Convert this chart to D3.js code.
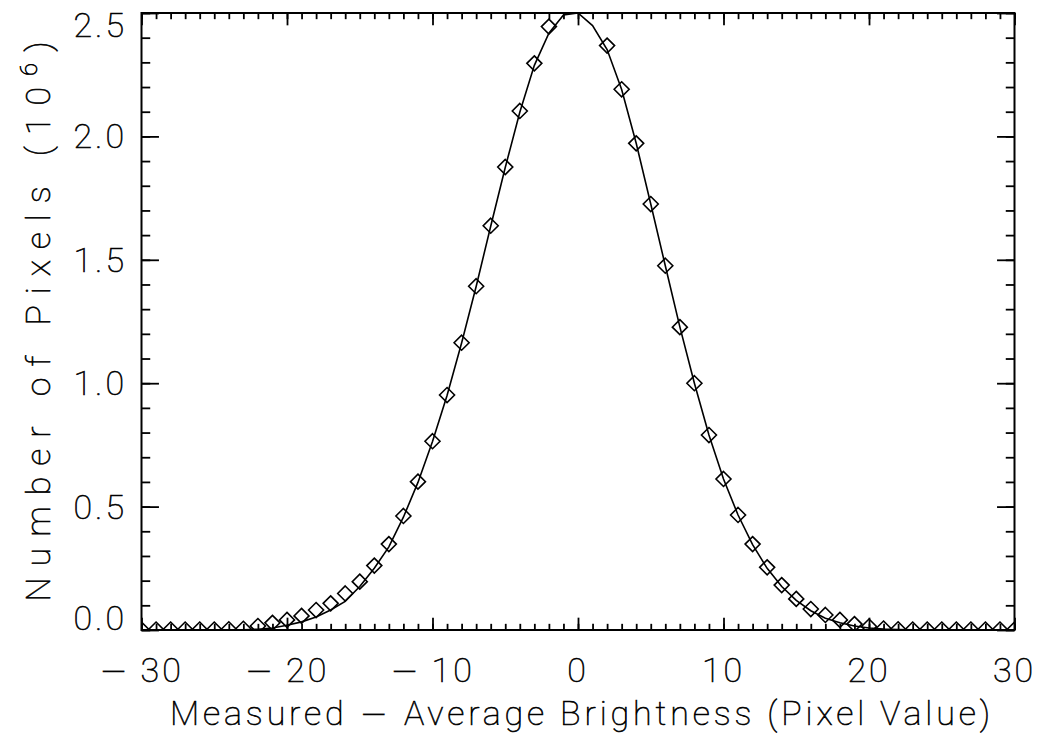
<!DOCTYPE html>
<html>
<head>
<meta charset="utf-8">
<script src="https://cdn.jsdelivr.net/npm/d3@7"></script>
<style>
  html, body { margin: 0; padding: 0; background: #fff; }
  svg { display: block; }
  text { font-family: Roboto, "DejaVu Sans", sans-serif; font-weight: 100; fill: #000; stroke: #000; stroke-width: 0.6px; }
  tspan.minus { font-family: "DejaVu Sans", sans-serif; font-weight: 200; stroke-width: 0.3px; }
</style>
</head>
<body>
<svg id="chart" width="1039" height="738"></svg>
<script>
// ---- data ----
const xValues = d3.range(-30, 31); // integer pixel-value offsets
const measured = [
  0.002, 0.002, 0.002, 0.002, 0.002, 0.002, 0.003, 0.005, 0.016, 0.029,   // -30..-21
  0.041, 0.057, 0.081, 0.108, 0.148, 0.196, 0.261, 0.348, 0.462, 0.601,   // -20..-11
  0.765, 0.952, 1.164, 1.393, 1.638, 1.876, 2.103, 2.296, 2.445, 2.56,    // -10..-1
  2.60,                                                                   // 0
  2.53, 2.368, 2.191, 1.972, 1.726, 1.476, 1.227, 1.000, 0.790, 0.612,    // 1..10
  0.466, 0.348, 0.254, 0.182, 0.126, 0.085, 0.061, 0.041, 0.024, 0.014,   // 11..20
  0.006, 0.003, 0.002, 0.002, 0.002, 0.002, 0.002, 0.002, 0.002, 0.002    // 21..30
];
const fitted = [
  0.000, 0.000, 0.000, 0.000, 0.000, 0.000, 0.000, 0.001, 0.003, 0.008,   // -30..-21
  0.019, 0.033, 0.053, 0.081, 0.116, 0.176, 0.250, 0.337, 0.457, 0.598,   // -20..-11
  0.764, 0.950, 1.163, 1.392, 1.636, 1.874, 2.098, 2.288, 2.418, 2.492,   // -10..-1
  2.500,                                                                  // 0
  2.449, 2.352, 2.190, 1.972, 1.726, 1.476, 1.228, 1.000, 0.790, 0.612,   // 1..10
  0.466, 0.346, 0.250, 0.176, 0.120, 0.078, 0.048, 0.029, 0.016, 0.008,   // 11..20
  0.004, 0.002, 0.001, 0.000, 0.000, 0.000, 0.000, 0.000, 0.000, 0.000    // 21..30
];
const xTickValues = [-30, -20, -10, 0, 10, 20, 30];
const xTickLabels = ["\u2212\u200930", "\u2212\u200920", "\u2212\u200910", "0", "10", "20", "30"];
const yTickValues = [0, 0.5, 1.0, 1.5, 2.0, 2.5];
const yTickLabels = ["0.0", "0.5", "1.0", "1.5", "2.0", "2.5"];
const xTitle = "Measured \u2212 Average Brightness (Pixel Value)";
const yTitleMain = "Number of Pixels (10";
const yTitleSup = "6";
const yTitleEnd = ")";

// ---- layout ----
const L = 141.5, R = 1014.5, T = 13, B = 630;
const svg = d3.select("#chart");

const x = d3.scaleLinear().domain([-30, 30]).range([L, R]);
const y = d3.scaleLinear().domain([0, 2.5]).range([B, T]);

const plotW = R - L, plotH = B - T;
const xMajorLen = 0.02 * plotH, yMajorLen = 0.02 * plotW;

svg.append("defs").append("clipPath").attr("id", "clip")
  .append("rect").attr("x", L).attr("y", T).attr("width", plotW).attr("height", plotH);

const tickStroke = 1.8;
const xMinor = d3.range(-30, 31, 1);
const yMinor = d3.range(0, 2.5001, 0.1);

function styleAxis(g) {
  g.select(".domain").remove();
  g.selectAll(".tick line").attr("stroke", "#000").attr("stroke-width", tickStroke);
  g.selectAll(".tick text").remove();
}
svg.append("g").attr("transform", `translate(0,${B})`)
  .call(d3.axisTop(x).tickValues(xMinor).tickSize(xMajorLen / 2)).call(styleAxis);
svg.append("g").attr("transform", `translate(0,${B})`)
  .call(d3.axisTop(x).tickValues(xTickValues).tickSize(xMajorLen)).call(styleAxis);
svg.append("g").attr("transform", `translate(0,${T})`)
  .call(d3.axisBottom(x).tickValues(xMinor).tickSize(xMajorLen / 2)).call(styleAxis);
svg.append("g").attr("transform", `translate(0,${T})`)
  .call(d3.axisBottom(x).tickValues(xTickValues).tickSize(xMajorLen)).call(styleAxis);
svg.append("g").attr("transform", `translate(${L},0)`)
  .call(d3.axisRight(y).tickValues(yMinor).tickSize(yMajorLen / 2)).call(styleAxis);
svg.append("g").attr("transform", `translate(${L},0)`)
  .call(d3.axisRight(y).tickValues(yTickValues).tickSize(yMajorLen)).call(styleAxis);
svg.append("g").attr("transform", `translate(${R},0)`)
  .call(d3.axisLeft(y).tickValues(yMinor).tickSize(yMajorLen / 2)).call(styleAxis);
svg.append("g").attr("transform", `translate(${R},0)`)
  .call(d3.axisLeft(y).tickValues(yTickValues).tickSize(yMajorLen)).call(styleAxis);

svg.append("rect").attr("x", L).attr("y", T).attr("width", plotW).attr("height", plotH)
  .attr("fill", "none").attr("stroke", "#000").attr("stroke-width", 2);

// write a string, rendering the minus sign in a wider glyph
function writeWithMinus(sel, str) {
  str.split(/(\u2212)/).filter(p => p.length).forEach(p => {
    const t = sel.append("tspan").text(p);
    if (p === "\u2212") t.attr("class", "minus");
  });
}

// tick labels
const fs = 34, capH = fs * 0.711;
svg.append("g").selectAll("text").data(xTickValues).join("text")
  .attr("x", d => x(d)).attr("y", 682)
  .attr("text-anchor", "middle").attr("font-size", fs).attr("letter-spacing", 3)
  .each(function (d, i) { writeWithMinus(d3.select(this), xTickLabels[i]); });

svg.append("g").selectAll("text").data(yTickValues).join("text")
  .attr("x", 127).attr("y", d => Math.min(B, Math.max(T + capH, y(d) + capH / 2)))
  .attr("text-anchor", "end").attr("font-size", fs).attr("letter-spacing", 3)
  .text((d, i) => yTickLabels[i]);

// axis titles
const xt = svg.append("text").attr("x", 580).attr("y", 725)
  .attr("text-anchor", "middle").attr("font-size", fs)
  .attr("textLength", 820).attr("lengthAdjust", "spacing");
writeWithMinus(xt, xTitle);

const yt = svg.append("text")
  .attr("transform", `translate(50,${(T + B) / 2}) rotate(-90)`)
  .attr("text-anchor", "middle").attr("font-size", fs)
  .attr("textLength", 560).attr("lengthAdjust", "spacing");
yt.append("tspan").text(yTitleMain);
yt.append("tspan").attr("font-size", fs * 0.7).attr("dy", -13).text(yTitleSup);
yt.append("tspan").attr("dy", 13).text(yTitleEnd);

// data
const plotG = svg.append("g").attr("clip-path", "url(#clip)");
const line = d3.line().x((d, i) => x(xValues[i])).y(d => y(d));
plotG.append("path").datum(fitted).attr("d", line)
  .attr("fill", "none").attr("stroke", "#000").attr("stroke-width", 1.6);

const pts = xValues.map((v, i) => ({ v, m: measured[i] })).filter(d => d.m <= 2.5);
const s = 7.5;
plotG.append("g").selectAll("path").data(pts).join("path")
  .attr("d", d => {
    const cx = x(d.v), cy = y(d.m);
    return `M${cx},${cy - s}L${cx + s},${cy}L${cx},${cy + s}L${cx - s},${cy}Z`;
  })
  .attr("fill", "none").attr("stroke", "#000").attr("stroke-width", 1.6);
</script>
</body>
</html>
